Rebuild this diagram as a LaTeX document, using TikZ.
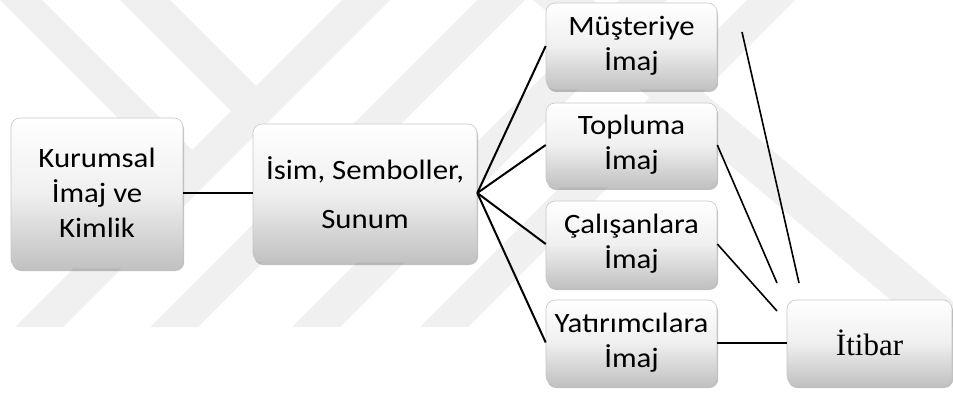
\documentclass[tikz,border=0pt]{standalone}
\usepackage{fontspec}
\setmainfont{Carlito}
\newfontfamily\boxfont[FakeStretch=1.1]{Carlito}
\newfontfamily\serfont{Liberation Serif}
\usetikzlibrary{shadows}
\definecolor{wm}{gray}{0.94}
\tikzset{
  box/.style={rounded corners=9pt, draw=black!22, line width=0.6pt,
    top color=white, bottom color=black!24, middle color=black!6,
    drop shadow={shadow xshift=1.2pt, shadow yshift=-3pt, opacity=0.35, fill=black!70},
    align=center, inner sep=0pt,
    font={\boxfont\fontsize{28}{35}\selectfont}},
  link/.style={line width=2pt, black},
  thin link/.style={line width=1.6pt, black},
  band/.style={fill=wm, draw=none}
}
\begin{document}
\begin{tikzpicture}
\useasboundingbox (0,0) rectangle (953pt,394pt);
\fill[white] (0,0) rectangle (953pt,394pt);
% watermark
\begin{scope}
\clip (0,0) rectangle (953pt,394pt);
\begin{scope}[x=1pt,y=1pt,shift={(0,394pt)},yscale=-1]
  \foreach \b in {15,150,292,420}{
    \fill[band] (\b,327) -- (\b+48,327) -- (\b+375,0) -- (\b+327,0) -- cycle;
  }
  \fill[band] (0,0) -- (42,0) -- (192.5,150.5) -- (171.5,171.5) -- cycle;
  \fill[band] (120,0) -- (170,0) -- (256.5,86.5) -- (231.5,111.5) -- cycle;
  \fill[band] (533,0) -- (593,0) -- (983,327) -- (923,327) -- cycle;
\end{scope}
\end{scope}
\begin{scope}[x=1pt,y=1pt]
  \node[box, minimum width=172pt, minimum height=150pt] (A) at (97,201) {Kurumsal\\İmaj ve\\Kimlik};
  \node[box, minimum width=224pt, minimum height=138pt,
        font={\boxfont\fontsize{28}{49}\selectfont}] (B) at (365,201) {İsim, Semboller,\\Sunum};
  \node[box, minimum width=171pt, minimum height=86pt] (M) at (631.5,348) {Müşteriye\\İmaj};
  \node[box, minimum width=171pt, minimum height=84pt] (T) at (631.5,249) {Topluma\\İmaj};
  \node[box, minimum width=171pt, minimum height=86pt] (C) at (631.5,150) {Çalışanlara\\İmaj};
  \node[box, minimum width=171pt, minimum height=85pt] (Y) at (631.5,51.5) {Yatırımcılara\\İmaj};
  \node[box, minimum width=165pt, minimum height=85pt,
        font={\serfont\fontsize{31}{35}\selectfont}] (I) at (869.5,51.5) {İtibar};
  \coordinate (t2) at (777,111);
  \coordinate (c2) at (777,83);
  \coordinate (m1) at (742,362);
  \coordinate (m2) at (799,111);
  \draw[link] (A.east) -- (B.west);
  \draw[link] (B.east) -- (M.west);
  \draw[link] (B.east) -- (T.west);
  \draw[link] (B.east) -- (C.west);
  \draw[link] (B.east) -- (Y.west);
  \draw[link] (Y.east) -- (I.west);
  \draw[thin link] (T.east) -- (t2);
  \draw[thin link] (C.east) -- (c2);
  \draw[thin link] (m1) -- (m2);
\end{scope}
\end{tikzpicture}
\end{document}
